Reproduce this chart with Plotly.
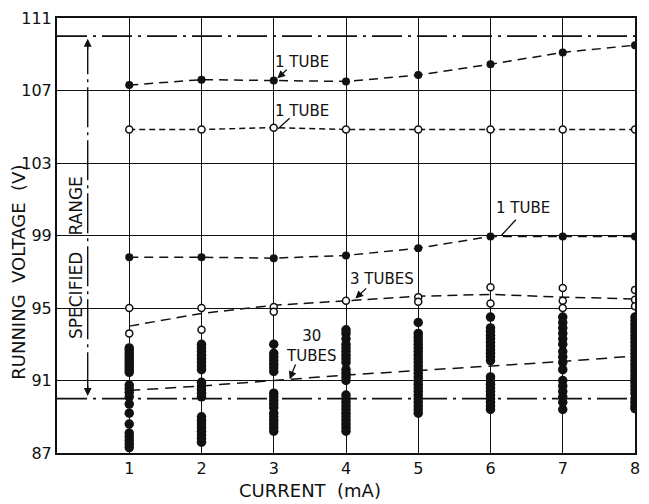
import plotly.graph_objects as go

# Current settings (mA)
current = [1, 2, 3, 4, 5, 6, 7, 8]

# Single-tube curves (V)
tube_a = [107.3, 107.6, 107.55, 107.5, 107.85, 108.45, 109.1, 109.5]
tube_b = [104.85, 104.85, 104.95, 104.85, 104.85, 104.85, 104.85, 104.85]
tube_c = [97.8, 97.8, 97.75, 97.9, 98.3, 98.95, 98.95, 98.95]

# Three-tube group: individual readings and mean line
three_x = [1, 1, 2, 2, 3, 3, 4, 5, 5, 6, 6, 7, 7, 7, 8, 8, 8]
three_v = [95.0, 93.6, 95.0, 93.8, 95.05, 94.8, 95.4, 95.6, 95.35,
           96.15, 95.25, 96.1, 95.4, 95.0, 96.0, 95.45, 95.1]
three_mean = [94.0, 94.7, 95.15, 95.4, 95.65, 95.75, 95.6, 95.5]

# Thirty-tube group: readings per current, and mean line
thirty = {
    1: [92.8, 92.65, 92.5, 92.35, 92.2, 92.05, 91.9, 91.75, 91.6, 91.45,
        90.75, 90.55, 90.35, 90.1, 89.7, 89.2, 88.6, 88.1, 87.9, 87.7, 87.5, 87.3],
    2: [93.0, 92.8, 92.6, 92.4, 92.2, 92.0, 91.8, 91.6, 90.9, 90.7, 90.5,
        90.3, 90.1, 89.0, 88.8, 88.6, 88.4, 88.2, 88.0, 87.8, 87.6],
    3: [93.0, 92.5, 92.3, 92.1, 91.9, 91.7, 91.5, 90.3, 90.1, 89.9, 89.7,
        89.5, 89.2, 89.0, 88.8, 88.6, 88.4, 88.2],
    4: [93.8, 93.6, 93.3, 93.0, 92.8, 92.6, 92.4, 92.2, 92.0, 91.6, 91.4,
        91.2, 91.0, 90.2, 90.0, 89.8, 89.6, 89.4, 89.2, 89.0, 88.8, 88.6, 88.4, 88.2],
    5: [94.2, 93.6, 93.4, 93.2, 93.0, 92.8, 92.6, 92.4, 92.2, 92.0, 91.8,
        91.6, 91.4, 91.2, 91.0, 90.8, 90.6, 90.4, 90.2, 90.0, 89.8, 89.6, 89.4, 89.2],
    6: [94.5, 93.9, 93.7, 93.5, 93.3, 93.1, 92.9, 92.7, 92.5, 92.3, 92.1,
        91.2, 91.0, 90.8, 90.6, 90.4, 90.2, 90.0, 89.8, 89.6, 89.4],
    7: [94.5, 94.2, 93.9, 93.6, 93.3, 93.0, 92.6, 92.3, 92.0, 91.6, 91.0,
        90.7, 90.4, 90.1, 89.8, 89.4],
    8: [94.5, 94.3, 94.1, 93.9, 93.7, 93.5, 93.3, 93.1, 92.9, 92.7, 92.5,
        92.3, 92.1, 91.9, 91.7, 91.5, 91.3, 91.1, 90.9, 90.7, 90.5, 90.3,
        90.0, 89.8, 89.6, 89.45],
}
thirty_mean = [90.45, 90.7, 91.0, 91.3, 91.55, 91.8, 92.05, 92.35]

# Specified voltage range
spec_low, spec_high = 90, 110

y_ticks = [87, 91, 95, 99, 103, 107, 111]
x_ticks = [1, 2, 3, 4, 5, 6, 7, 8]

INK = "#111111"
FONT = "DejaVu Sans"

fig = go.Figure()

# Specified range limits (chain lines)
for v in (spec_low, spec_high):
    fig.add_trace(go.Scatter(x=[0, 8], y=[v, v], mode="lines",
                             line=dict(color=INK, width=1.6, dash="30px,6px,3px,6px")))

# Vertical range indicator
fig.add_trace(go.Scatter(x=[0.425, 0.425], y=[spec_low + 0.35, spec_high - 0.35], mode="lines",
                         line=dict(color=INK, width=1.4, dash="40px,5px,3px,5px")))

# Mean lines for the tube groups
fig.add_trace(go.Scatter(x=current, y=three_mean, mode="lines",
                         line=dict(color=INK, width=1.5, dash="10px,6px")))
fig.add_trace(go.Scatter(x=current, y=thirty_mean, mode="lines",
                         line=dict(color=INK, width=1.5, dash="11px,7px")))

# Thirty-tube readings
tx, tv = [], []
for c in current:
    tx += [c] * len(thirty[c])
    tv += thirty[c]
fig.add_trace(go.Scatter(x=tx, y=tv, mode="markers",
                         marker=dict(color=INK, size=9.5, line=dict(width=0))))

# Three-tube readings (open circles)
fig.add_trace(go.Scatter(x=three_x, y=three_v, mode="markers",
                         marker=dict(color="white", size=7, line=dict(color=INK, width=1.5))))

# Single-tube curves
fig.add_trace(go.Scatter(x=current, y=tube_a, mode="lines+markers",
                         line=dict(color=INK, width=1.5, dash="9px,6px"),
                         marker=dict(color=INK, size=8)))
fig.add_trace(go.Scatter(x=current, y=tube_b, mode="lines+markers",
                         line=dict(color=INK, width=1.5, dash="6px,4px"),
                         marker=dict(color="white", size=7, line=dict(color=INK, width=1.5))))
fig.add_trace(go.Scatter(x=current, y=tube_c, mode="lines+markers",
                         line=dict(color=INK, width=1.5, dash="9px,6px"),
                         marker=dict(color=INK, size=8)))

annotations = []


def label(x, y, text, size=15, angle=0, xref="x", yref="y"):
    annotations.append(dict(x=x, y=y, xref=xref, yref=yref, text=text, showarrow=False,
                            xanchor="center", yanchor="middle", textangle=angle,
                            font=dict(family=FONT, size=size, color=INK)))


def pointer(x0, y0, x1, y1, head=0):
    annotations.append(dict(x=x1, y=y1, ax=x0, ay=y0, xref="x", yref="y",
                            axref="x", ayref="y", text="", showarrow=True,
                            arrowhead=head, arrowsize=1.2, arrowwidth=1.3, arrowcolor=INK))


# Curve labels
label(3.39, 108.55, "1 TUBE")
label(3.39, 105.87, "1 TUBE")
label(6.45, 100.53, "1 TUBE")
label(4.5, 96.6, "3 TUBES")
label(3.51, 92.9, "30<br>TUBES", size=15)

# Leader arrows from labels to curves
pointer(3.20, 108.22, 3.05, 107.67, head=2)
pointer(3.24, 105.55, 3.06, 104.89, head=0)
pointer(6.37, 99.95, 6.15, 99.0, head=0)
pointer(4.30, 96.16, 4.13, 95.52, head=2)
pointer(3.31, 91.96, 3.22, 91.07, head=2)

# Specified range indicator
label(0.26, 97.8, "SPECIFIED&nbsp;&nbsp;&nbsp;RANGE", size=17, angle=-90)
pointer(0.425, 109.2, 0.425, 109.85, head=2)
pointer(0.425, 90.8, 0.425, 90.15, head=2)

# Axis titles
label(-0.067, 0.415, "RUNNING&nbsp;&nbsp;VOLTAGE&nbsp;&nbsp;(V)", size=18, angle=-90,
      xref="paper", yref="paper")
label(0.437, -0.086, "CURRENT&nbsp;&nbsp;(mA)", size=18, xref="paper", yref="paper")

fig.update_layout(
    width=649, height=504,
    margin=dict(l=57, r=9, t=13, b=51),
    paper_bgcolor="white", plot_bgcolor="white",
    showlegend=False,
    annotations=annotations,
    xaxis=dict(range=[0, 8], tickvals=x_ticks, ticktext=[str(v) for v in x_ticks],
               showgrid=True, gridcolor=INK, gridwidth=1.3, zeroline=False,
               showline=True, linecolor=INK, linewidth=2, mirror=True,
               ticks="", tickfont=dict(family=FONT, size=16, color=INK)),
    yaxis=dict(range=[87, 111], tickvals=y_ticks, ticktext=[str(v) for v in y_ticks],
               showgrid=True, gridcolor=INK, gridwidth=1.3, zeroline=False,
               showline=True, linecolor=INK, linewidth=2, mirror=True,
               ticks="", tickfont=dict(family=FONT, size=16, color=INK)),
)

fig.write_html("out.html")
